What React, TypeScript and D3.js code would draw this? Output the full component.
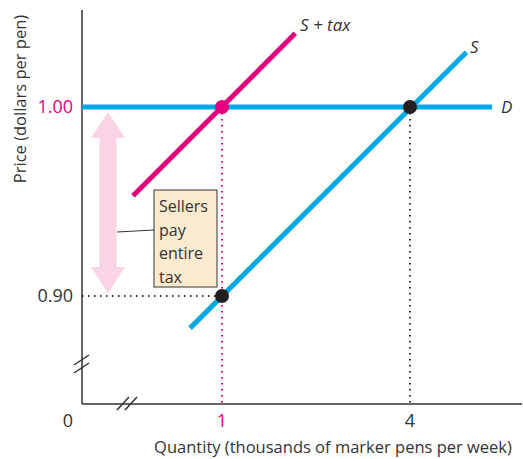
import React from "react";
import * as d3 from "d3";

// ---- data ----
const supplyQ = [0.49, 4.9];
const supplyP = [0.883, 1.029];
const taxQ = [-0.42, 2.17];
const taxP = [0.953, 1.039];
const demandQ = [-1.234, 5.31];
const demandP = [1.0, 1.0];
const equilibria = [
  { q: 1, p: 1.0, kind: "tax" },
  { q: 4, p: 1.0, kind: "orig" },
  { q: 1, p: 0.9, kind: "orig" },
];
const yTicks = [
  { v: 1.0, label: "1.00", hl: true },
  { v: 0.9, label: "0.90", hl: false },
];
const xTicks = [
  { v: 1, label: "1", hl: true },
  { v: 4, label: "4", hl: false },
];
const calloutLines = ["Sellers", "pay", "entire", "tax"];

const W = 523;
const H = 459;
const BLUE = "#00a9e6";
const MAGENTA = "#e5007d";
const PINK = "#f9d4e4";
const TXT = "#333333";
const FONT = "'Open Sans', Lato, sans-serif";

export default function App() {
  const axisX = 82;
  const axisY = 404;
  const x = d3.scaleLinear().domain([1, 4]).range([222, 410]);
  const y = d3.scaleLinear().domain([0.9, 1.0]).range([296, 107]);
  const line = d3
    .line<[number, number]>()
    .x((d) => x(d[0]))
    .y((d) => y(d[1]));
  const pts = (qs: number[], ps: number[]) =>
    qs.map((q, i) => [q, ps[i]] as [number, number]);

  const arrowX = 108;
  const aTop = y(1.0) + 5;
  const aBot = y(0.9) - 3;
  const headH = 26;
  const shaftW = 17;
  const headW = 34;
  const arrowPath = [
    `M${arrowX},${aTop}`,
    `L${arrowX + headW / 2},${aTop + headH}`,
    `L${arrowX + shaftW / 2},${aTop + headH}`,
    `L${arrowX + shaftW / 2},${aBot - headH}`,
    `L${arrowX + headW / 2},${aBot - headH}`,
    `L${arrowX},${aBot}`,
    `L${arrowX - headW / 2},${aBot - headH}`,
    `L${arrowX - shaftW / 2},${aBot - headH}`,
    `L${arrowX - shaftW / 2},${aTop + headH}`,
    `L${arrowX - headW / 2},${aTop + headH}`,
    "Z",
  ].join(" ");

  const box = { x: 154, y: 190, w: 63, h: 97 };

  return (
    <svg
      width={W}
      height={H}
      style={{ position: "absolute", left: 0, top: 0, background: "#fff" }}
      fontFamily={FONT}
    >
      {/* pink arrow */}
      <path d={arrowPath} fill={PINK} />

      {/* dotted guides */}
      <line
        x1={axisX}
        x2={x(1)}
        y1={y(0.9)}
        y2={y(0.9)}
        stroke={TXT}
        strokeWidth={2}
        strokeDasharray="1.5 4.5"
      />
      <line
        x1={x(1)}
        x2={x(1)}
        y1={y(1.0)}
        y2={axisY}
        stroke={MAGENTA}
        strokeWidth={2}
        strokeDasharray="1.5 4.5"
      />
      <line
        x1={x(4)}
        x2={x(4)}
        y1={y(1.0)}
        y2={axisY}
        stroke={TXT}
        strokeWidth={2}
        strokeDasharray="1.5 4.5"
      />

      {/* axes */}
      <line x1={axisX} x2={axisX} y1={10} y2={axisY} stroke={TXT} strokeWidth={1.5} />
      <line x1={axisX} x2={522} y1={axisY} y2={axisY} stroke={TXT} strokeWidth={1.5} />
      {/* axis breaks */}
      <g stroke={TXT} strokeWidth={1.5}>
        <line x1={74} x2={89} y1={365} y2={355} />
        <line x1={74} x2={89} y1={373} y2={363} />
        <line x1={117} x2={129} y1={410} y2={397} />
        <line x1={125} x2={137} y1={410} y2={397} />
      </g>

      {/* curves */}
      <path d={line(pts(demandQ, demandP))!} stroke={BLUE} strokeWidth={5} fill="none" />
      <path d={line(pts(supplyQ, supplyP))!} stroke={BLUE} strokeWidth={5} fill="none" />
      <path d={line(pts(taxQ, taxP))!} stroke={MAGENTA} strokeWidth={5} fill="none" />

      {/* points */}
      {equilibria.map((d, i) => (
        <circle
          key={i}
          cx={x(d.q)}
          cy={y(d.p)}
          r={7}
          fill={d.kind === "tax" ? MAGENTA : "#231f20"}
        />
      ))}

      {/* curve labels */}
      <text x={300} y={31} fontSize={17} fontStyle="italic" fill={TXT}>
        S + tax
      </text>
      <text x={470} y={53} fontSize={17} fontStyle="italic" fill={TXT}>
        S
      </text>
      <text x={501} y={113} fontSize={17} fontStyle="italic" fill={TXT}>
        D
      </text>

      {/* callout */}
      <line x1={117} y1={232} x2={box.x} y2={230} stroke={TXT} strokeWidth={1} />
      <rect
        x={box.x}
        y={box.y}
        width={box.w}
        height={box.h}
        fill="#fdebcf"
        stroke={TXT}
        strokeWidth={1}
      />
      {calloutLines.map((t, i) => (
        <text key={t} x={box.x + 5} y={box.y + 22 + i * 23.5} fontSize={16} fill={TXT}>
          {t}
        </text>
      ))}

      {/* tick labels */}
      {yTicks.map((t) => (
        <text
          key={t.label}
          x={73}
          y={y(t.v)}
          dy="0.36em"
          textAnchor="end"
          fontSize={18}
          fill={t.hl ? MAGENTA : TXT}
        >
          {t.label}
        </text>
      ))}
      <text x={68} y={421} dy="0.36em" textAnchor="middle" fontSize={18} fill={TXT}>
        0
      </text>
      {xTicks.map((t) => (
        <text
          key={t.label}
          x={x(t.v)}
          y={421}
          dy="0.36em"
          textAnchor="middle"
          fontSize={18}
          fill={t.hl ? MAGENTA : TXT}
        >
          {t.label}
        </text>
      ))}

      {/* axis titles */}
      <text
        transform="translate(26,99) rotate(-90)"
        textAnchor="middle"
        fontSize={16.5}
        fill={TXT}
      >
        Price (dollars per pen)
      </text>
      <text x={333} y={453} textAnchor="middle" fontSize={16.5} fill={TXT}>
        Quantity (thousands of marker pens per week)
      </text>
    </svg>
  );
}
